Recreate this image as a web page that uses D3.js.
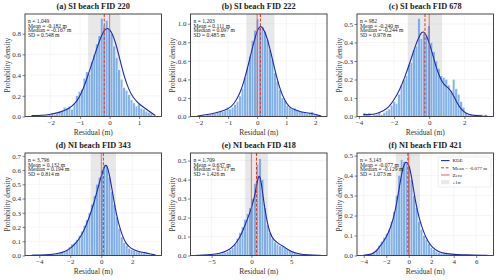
<!DOCTYPE html>
<html>
<head>
<meta charset="utf-8">
<script src="https://cdn.jsdelivr.net/npm/d3@7"></script>
<style>
  body { margin: 0; background: #fff; }
  text { font-family: "Liberation Serif", "Times New Roman", serif; }
</style>
</head>
<body>
<div id="chart"></div>
<script>
// Panel titles and summary stats
var titles = ["(a) SI beach FID 220", "(b) SI beach FID 222", "(c) SI beach FID 678",
              "(d) NI beach FID 343", "(e) NI beach FID 418", "(f) NI beach FID 421"];
var counts = ["1,049", "1,203", "982", "3,796", "1,709", "3,143"];
var means = [-0.182, 0.111, -0.240, 0.132, 0.637, -0.077];
var medians = [-0.167, 0.097, -0.244, 0.194, 0.717, -0.129];
var sds = [0.548, 0.485, 0.978, 0.814, 1.426, 1.073];

// Axis extents and ticks
var xDomains = [[-2.87, 1.76], [-2.29, 2.40], [-4.11, 3.66], [-4.92, 3.88], [-7.65, 9.5], [-4.6, 7.54]];
var yMax = [0.99, 1.105, 0.554, 0.72, 0.54, 0.513];
var xTicks = [[-2, -1, 0, 1], [-2, -1, 0, 1, 2], [-4, -2, 0, 2], [-4, -2, 0, 2], [-5, 0, 5], [-4, -2, 0, 2, 4, 6]];
var yTicks = [[0, 0.2, 0.4, 0.6, 0.8], [0, 0.2, 0.4, 0.6, 0.8, 1.0], [0, 0.1, 0.2, 0.3, 0.4, 0.5],
              [0, 0.1, 0.2, 0.3, 0.4, 0.5, 0.6, 0.7], [0, 0.1, 0.2, 0.3, 0.4, 0.5], [0, 0.1, 0.2, 0.3, 0.4, 0.5]];

// Histogram bins: first edge, bin width, densities
var binStart = [-2.66, -2.08, -3.76, -4.52, -6.87, -4.05];
var binWidth = [0.084, 0.0854, 0.1412, 0.16, 0.312, 0.2208];
var histA = [0.01,0.01,0,0.01,0.01,0.01,0.01,0.02,0.03,0.02,
             0.03,0.05,0.06,0.09,0.08,0.10,0.07,0.12,0.20,0.24,
             0.26,0.37,0.43,0.41,0.53,0.60,0.70,0.78,0.95,0.88,
             0.93,0.85,0.80,0.68,0.57,0.45,0.36,0.28,0.25,0.21,
             0.16,0.13,0.10,0.12,0.08,0.07,0.05,0.04,0.03,0.01];
var histB = [0.01,0,0.01,0.01,0.02,0.02,0.03,0.03,0.04,0.05,
             0.05,0.06,0.10,0.08,0.10,0.13,0.16,0.22,0.30,0.42,
             0.52,0.65,0.82,0.93,1.05,0.96,0.97,0.92,0.83,0.72,
             0.62,0.47,0.38,0.29,0.20,0.17,0.12,0.10,0.08,0.09,
             0.07,0.06,0.05,0.04,0.03,0.04,0.05,0.02,0.02,0.01];
var histC = [0.02,0.01,0.02,0,0.01,0.01,0.02,0.01,0.02,0.03,
             0.04,0.06,0.08,0.07,0.12,0.17,0.20,0.22,0.28,0.29,
             0.36,0.38,0.53,0.42,0.45,0.44,0.49,0.40,0.35,0.30,
             0.26,0.22,0.21,0.20,0.17,0.14,0.20,0.15,0.12,0.08,
             0.05,0.02,0.01,0.01,0.01,0.01,0.01,0.01,0.00,0.01];
var histD = [0.002,0.002,0.003,0.003,0.005,0.005,0.006,0.008,0.01,0.01,
             0.012,0.015,0.02,0.025,0.04,0.06,0.08,0.09,0.11,0.14,
             0.17,0.21,0.25,0.30,0.36,0.42,0.50,0.55,0.60,0.64,
             0.63,0.55,0.45,0.36,0.27,0.19,0.13,0.09,0.07,0.05,
             0.04,0.035,0.03,0.025,0.02,0.015,0.01,0.008,0.005,0.003];
var histE = [0,0.002,0.002,0.003,0.003,0.004,0.005,0.006,0.008,0.01,
             0.012,0.015,0.02,0.03,0.04,0.06,0.09,0.12,0.15,0.19,
             0.22,0.25,0.30,0.38,0.48,0.51,0.40,0.25,0.16,0.12,
             0.09,0.07,0.06,0.05,0.045,0.04,0.03,0.025,0.02,0.015,
             0.01,0.008,0.006,0.005,0.004,0.003,0.002,0.002,0.001,0.001];
var histF = [0.003,0.003,0.005,0.005,0.01,0.03,0.05,0.07,0.09,0.11,
             0.13,0.17,0.22,0.30,0.40,0.48,0.47,0.46,0.45,0.38,
             0.30,0.24,0.17,0.13,0.10,0.08,0.06,0.04,0.03,0.02,
             0.015,0.012,0.01,0.008,0.006,0.005,0.004,0.003,0.003,0.002,
             0.002,0.002,0.001,0.001,0.001,0.001,0.001,0.001,0.001,0.001];

// KDE curves, [residual, density]
var kdeA = [[-2.65,0.01],[-2.3,0.01],[-2.0,0.02],[-1.7,0.04],[-1.5,0.06],[-1.3,0.09],[-1.1,0.15],
            [-0.95,0.23],[-0.8,0.34],[-0.65,0.47],[-0.5,0.6],[-0.35,0.73],[-0.2,0.83],[-0.08,0.86],
            [0.05,0.83],[0.2,0.72],[0.35,0.55],[0.5,0.38],[0.65,0.26],[0.8,0.18],[1.0,0.12],
            [1.2,0.08],[1.4,0.04],[1.55,0.01]];
var kdeB = [[-2.05,0.005],[-1.7,0.02],[-1.4,0.04],[-1.2,0.06],[-1.0,0.08],[-0.8,0.13],[-0.6,0.24],
            [-0.45,0.38],[-0.3,0.56],[-0.15,0.76],[0.0,0.93],[0.1,0.98],[0.2,0.96],[0.35,0.85],
            [0.5,0.65],[0.65,0.45],[0.8,0.28],[0.95,0.17],[1.1,0.1],[1.3,0.07],[1.5,0.05],
            [1.7,0.04],[1.9,0.03],[2.05,0.02],[2.2,0.005]];
var kdeC = [[-3.75,0.01],[-3.4,0.01],[-3.0,0.015],[-2.6,0.03],[-2.3,0.05],[-2.0,0.09],[-1.7,0.14],
            [-1.4,0.21],[-1.1,0.29],[-0.8,0.38],[-0.55,0.44],[-0.35,0.465],[-0.15,0.44],[0.1,0.37],
            [0.35,0.28],[0.6,0.21],[0.85,0.17],[1.1,0.155],[1.3,0.13],[1.55,0.08],[1.8,0.04],
            [2.1,0.015],[2.5,0.005],[3.0,0.003],[3.3,0.001]];
var kdeD = [[-4.5,0.002],[-3.5,0.005],[-2.8,0.012],[-2.3,0.03],[-2.0,0.05],[-1.7,0.08],[-1.4,0.12],
            [-1.1,0.18],[-0.8,0.26],[-0.5,0.36],[-0.25,0.46],[0.0,0.56],[0.2,0.63],[0.35,0.64],
            [0.5,0.58],[0.7,0.46],[0.9,0.33],[1.1,0.23],[1.35,0.14],[1.6,0.08],[1.9,0.05],
            [2.3,0.03],[2.8,0.02],[3.2,0.01],[3.5,0.003]];
var kdeE = [[-6.9,0.001],[-5,0.005],[-4,0.01],[-3,0.025],[-2.2,0.05],[-1.5,0.09],[-1.0,0.14],
            [-0.5,0.19],[0,0.25],[0.4,0.31],[0.7,0.38],[0.95,0.43],[1.2,0.40],[1.5,0.30],
            [1.9,0.19],[2.3,0.12],[2.8,0.08],[3.5,0.06],[4.3,0.04],[5,0.02],[6,0.008],
            [7,0.003],[8.7,0.001]];
var kdeF = [[-4.0,0.002],[-3.3,0.005],[-2.9,0.02],[-2.5,0.05],[-2.0,0.09],[-1.6,0.14],[-1.2,0.22],
            [-0.9,0.32],[-0.6,0.42],[-0.35,0.47],[-0.1,0.465],[0.1,0.44],[0.35,0.36],[0.6,0.27],
            [0.9,0.19],[1.3,0.12],[1.7,0.07],[2.1,0.04],[2.6,0.02],[3.2,0.01],[4,0.005],
            [5,0.003],[7,0.001]];

var hists = [histA, histB, histC, histD, histE, histF];
var kdes = [kdeA, kdeB, kdeC, kdeD, kdeE, kdeF];

var W = 500, H = 280;
var colLeft = [25, 190.5, 357], rowTop = [14, 153];
var pw = 136.5, ph = 102.5;

var histColor = "#4a90e2", kdeColor = "#1f2aa5", meanColor = "#e8311e", zeroColor = "#ee4b42";

var svg = d3.select("#chart").append("svg")
  .attr("width", W).attr("height", H);

var fmt = d3.format(".3f");
var fmtSigned = v => (v < 0 ? "-" : "") + fmt(Math.abs(v));

titles.forEach(function (title, i) {
  var x0 = colLeft[i % 3], y0 = rowTop[Math.floor(i / 3)];
  var g = svg.append("g").attr("transform", `translate(${x0},${y0})`);

  var xScale = d3.scaleLinear().domain(xDomains[i]).range([0, pw]);
  var yScale = d3.scaleLinear().domain([0, yMax[i]]).range([ph, 0]);

  g.append("clipPath").attr("id", "clip" + i)
    .append("rect").attr("width", pw).attr("height", ph);
  var plot = g.append("g").attr("clip-path", `url(#clip${i})`);

  // faint grid
  plot.selectAll("line.gx").data(xTicks[i]).join("line")
    .attr("x1", d => xScale(d)).attr("x2", d => xScale(d))
    .attr("y1", 0).attr("y2", ph)
    .attr("stroke", "#ececec").attr("stroke-width", 0.5);
  plot.selectAll("line.gy").data(yTicks[i]).join("line")
    .attr("y1", d => yScale(d)).attr("y2", d => yScale(d))
    .attr("x1", 0).attr("x2", pw)
    .attr("stroke", "#ececec").attr("stroke-width", 0.5);

  // +-1 sigma band
  plot.append("rect")
    .attr("x", xScale(means[i] - sds[i]))
    .attr("width", xScale(means[i] + sds[i]) - xScale(means[i] - sds[i]))
    .attr("y", 0).attr("height", ph)
    .attr("fill", "#8a8a8a").attr("fill-opacity", 0.2);

  // histogram
  plot.selectAll("rect.bar").data(hists[i]).join("rect")
    .attr("class", "bar")
    .attr("x", (d, k) => xScale(binStart[i] + k * binWidth[i]))
    .attr("width", (d, k) => xScale(binStart[i] + (k + 1) * binWidth[i]) - xScale(binStart[i] + k * binWidth[i]))
    .attr("y", d => yScale(d))
    .attr("height", d => yScale(0) - yScale(d))
    .attr("fill", histColor).attr("fill-opacity", 0.68)
    .attr("stroke", "#fff").attr("stroke-width", 0.3);

  // KDE
  var line = d3.line().x(d => xScale(d[0])).y(d => yScale(d[1])).curve(d3.curveBasis);
  plot.append("path").datum(kdes[i])
    .attr("d", line).attr("fill", "none")
    .attr("stroke", kdeColor).attr("stroke-width", 1.1);

  // zero and mean lines
  plot.append("line")
    .attr("x1", xScale(0)).attr("x2", xScale(0)).attr("y1", 0).attr("y2", ph)
    .attr("stroke", zeroColor).attr("stroke-opacity", 0.75).attr("stroke-width", 1);
  plot.append("line")
    .attr("x1", xScale(means[i])).attr("x2", xScale(means[i])).attr("y1", 0).attr("y2", ph)
    .attr("stroke", meanColor).attr("stroke-width", 1).attr("stroke-dasharray", "3,1.6");

  // axes
  var xAxis = d3.axisBottom(xScale).tickValues(xTicks[i]).tickSize(2.5).tickPadding(1.5)
    .tickFormat(d => d < 0 ? "\u2212" + Math.abs(d) : d);
  var yAxis = d3.axisLeft(yScale).tickValues(yTicks[i]).tickSize(2.5).tickPadding(1.5)
    .tickFormat(d3.format(".1f"));
  g.append("g").attr("transform", `translate(0,${ph})`).call(xAxis)
    .call(a => a.select(".domain").remove());
  g.append("g").call(yAxis).call(a => a.select(".domain").remove());
  g.selectAll(".tick text").attr("font-size", 7).attr("fill", "#333")
    .style("font-family", "'Liberation Serif', serif");
  g.selectAll(".tick line").attr("stroke", "#333").attr("stroke-width", 0.6);

  // frame
  g.append("rect").attr("width", pw).attr("height", ph)
    .attr("fill", "none").attr("stroke", "#333").attr("stroke-width", 0.9);

  // title and axis labels
  g.append("text").attr("x", pw / 2).attr("y", -5)
    .attr("text-anchor", "middle").attr("font-size", 8.3).attr("font-weight", "bold")
    .attr("fill", "#222").text(title);
  g.append("text").attr("x", pw / 2).attr("y", ph + 18)
    .attr("text-anchor", "middle").attr("font-size", 7.5).attr("fill", "#333")
    .text("Residual (m)");
  g.append("text")
    .attr("transform", `translate(${-15.5},${ph / 2}) rotate(-90)`)
    .attr("text-anchor", "middle").attr("font-size", 7.2).attr("fill", "#333")
    .text("Probability density");

  // stats text
  var lines = ["n = " + counts[i], "Mean = " + fmtSigned(means[i]) + " m",
               "Median = " + fmtSigned(medians[i]) + " m", "SD = " + fmt(sds[i]) + " m"];
  g.append("g").selectAll("text").data(lines).join("text")
    .attr("x", 3).attr("y", (d, k) => 8.8 + k * 4.75)
    .attr("font-size", 5.6).attr("fill", "#222").text(d => d);

  // legend on last panel
  if (i === 5) {
    var lg = g.append("g").attr("transform", `translate(${81},${4})`);
    lg.append("rect").attr("width", 53).attr("height", 30).attr("rx", 1.5)
      .attr("fill", "#fff").attr("fill-opacity", 0.8)
      .attr("stroke", "#ddd").attr("stroke-width", 0.5);
    var items = ["KDE", "Mean = " + fmtSigned(means[i]) + " m", "Zero", "\u00b11\u03c3"];
    items.forEach(function (label, k) {
      var yy = 3.6 + k * 7.2;
      if (k === 3) {
        lg.append("rect").attr("x", 3).attr("y", yy - 2).attr("width", 8.5).attr("height", 4)
          .attr("fill", "#8a8a8a").attr("fill-opacity", 0.2);
      } else {
        lg.append("line").attr("x1", 3).attr("x2", 11.5).attr("y1", yy).attr("y2", yy)
          .attr("stroke", [kdeColor, meanColor, zeroColor][k])
          .attr("stroke-width", [1.1, 1, 1.8][k])
          .attr("stroke-opacity", [1, 1, 0.5][k])
          .attr("stroke-dasharray", k === 1 ? "3,1.6" : null);
      }
      lg.append("text").attr("x", 14.5).attr("y", yy + 1.8)
        .attr("font-size", 5).attr("fill", "#222").text(label);
    });
  }
});
</script>
</body>
</html>
